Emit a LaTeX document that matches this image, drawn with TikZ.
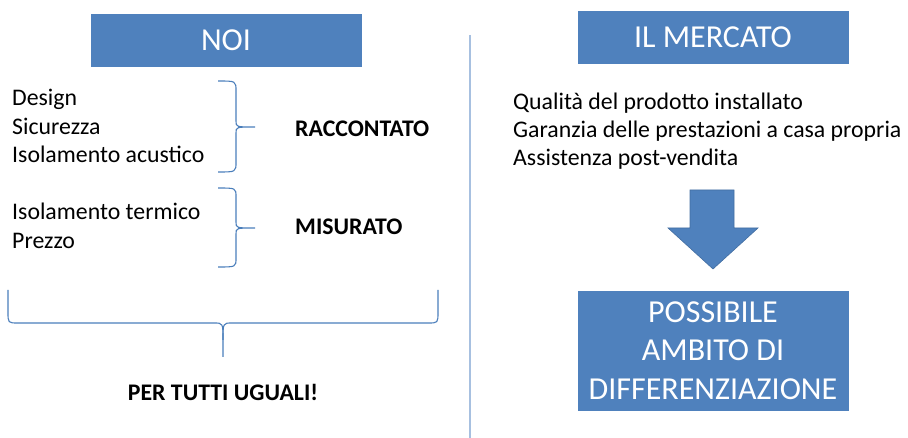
\documentclass[tikz,border=0pt]{standalone}
\usepackage{fontspec}
\setmainfont{Carlito}
\usepackage{tikz}
\usetikzlibrary{positioning}

\definecolor{boxblue}{HTML}{4F81BD}
\definecolor{bracecol}{HTML}{4A7EBB}
\definecolor{sepcol}{HTML}{A7C0E0}

\begin{document}
\begin{tikzpicture}[
        x=1pt, y=-1pt,
        titlebox/.style={fill=boxblue, draw=boxblue, text=white, inner sep=0pt,
            minimum width=270pt, font=\fontsize{32}{38.5}\selectfont, align=center},
        item/.style={anchor=base west, inner sep=0pt, font=\fontsize{23.8}{28}\selectfont},
        verdict/.style={anchor=base west, inner sep=0pt, font=\fontsize{23.8}{28}\selectfont\bfseries},
        bracket/.style={bracecol, line width=1.1pt},
        sepline/.style={sepcol, line width=2pt}
    ]
    \useasboundingbox (0,0) rectangle (908,438);

    % Titoli
    \node[titlebox, minimum height=52pt] (noi) at (226,40) {NOI};
    \node[titlebox, minimum height=52pt] (mercato) at (713,37) {IL MERCATO};
    \node[titlebox, minimum height=119pt] (ambito) at (713,350.5)
        {POSSIBILE\\AMBITO DI\\DIFFERENZIAZIONE};

    % Linea di separazione
    \draw[sepline] (470,35) -- (470,438);

    % Colonna sinistra
    \node[item] (design) at (12,106) {Design};
    \node[item] (sicurezza) at (12,134.5) {Sicurezza};
    \node[item] (acustico) at (12,163) {Isolamento acustico};
    \node[item] (termico) at (12,220) {Isolamento termico};
    \node[item] (prezzo) at (12,249) {Prezzo};

    \node[verdict] (raccontato) at (295,137) {RACCONTATO};
    \node[verdict] (misurato) at (295,235) {MISURATO};
    \node[verdict, anchor=base] (tutti) at (223,400) {PER TUTTI UGUALI!};

    % Graffe
    \draw[bracket] (218,81) .. controls (236,81) .. (236,91) -- (236,121)
        .. controls (236,127) .. (255,127) .. controls (236,127) .. (236,133)
        -- (236,162) .. controls (236,172) .. (218,172);
    \draw[bracket] (218,188) .. controls (236,188) .. (236,197) -- (236,222)
        .. controls (236,228) .. (255,228) .. controls (236,228) .. (236,234)
        -- (236,258) .. controls (236,267) .. (218,267);
    \draw[bracket] (8,290) -- (8,312) .. controls (8,323) .. (18,323) -- (214,323)
        .. controls (223,323) .. (223,340) -- (223,357);
    \draw[bracket] (438,290) -- (438,312) .. controls (438,323) .. (428,323) -- (232,323)
        .. controls (223,323) .. (223,340);

    % Colonna destra
    \node[item] (qualita) at (513,110) {Qualità del prodotto installato};
    \node[item] (garanzia) at (513,138) {Garanzia delle prestazioni a casa propria};
    \node[item] (assistenza) at (513,166) {Assistenza post-vendita};

    % Freccia
    \draw[fill=boxblue, draw=boxblue!85!black, line width=0.6pt]
        (690,190) -- (734,190) -- (734,228) -- (758,228) -- (713,269)
        -- (668,228) -- (690,228) -- cycle;

\end{tikzpicture}
\end{document}
